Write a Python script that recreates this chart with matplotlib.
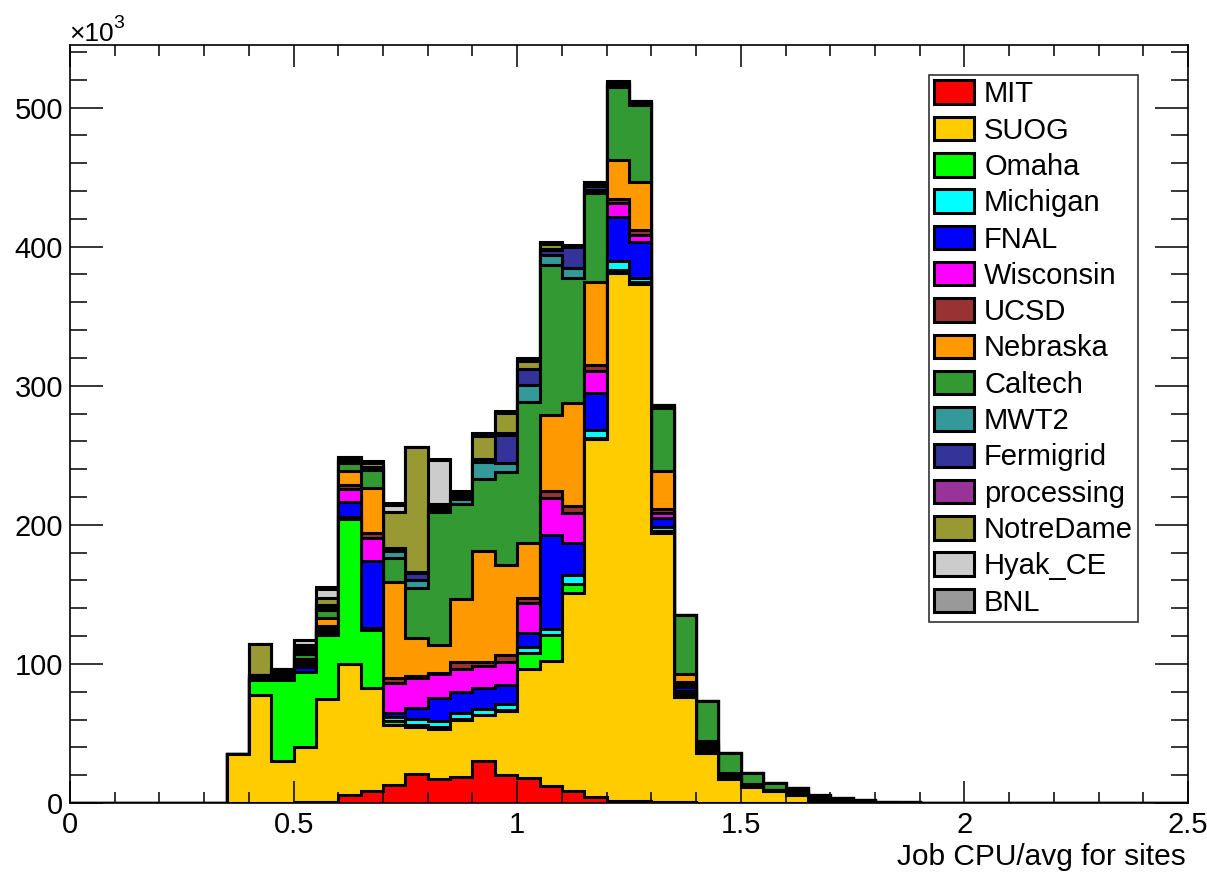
import numpy as np
import matplotlib
matplotlib.use('Agg')
import matplotlib.pyplot as plt
from matplotlib.patches import Patch
from matplotlib.ticker import MultipleLocator, FuncFormatter

plt.rcParams['font.family'] = ['Liberation Sans', 'DejaVu Sans']

# ---------------- data (values in units of 10^3) ----------------
n_bins = 50
x_min, x_max = 0.0, 2.5
first_bin = 7  # first filled bin starts at 0.35 (bins of 0.05)

sites = ["MIT", "SUOG", "Omaha", "Michigan", "FNAL", "Wisconsin", "UCSD",
         "Nebraska", "Caltech", "MWT2", "Fermigrid", "processing",
         "NotreDame", "Hyak_CE", "BNL"]
colors = ["#ff0000", "#ffcc00", "#00ff00", "#00ffff", "#0000ff", "#ff00ff",
          "#993333", "#ff9900", "#339933", "#339999", "#333399", "#993399",
          "#999933", "#cccccc", "#999999"]

# bins 0.35, 0.40, ..., 1.85
MIT = [0, 0, 0, 0.5, 1, 6, 8.8, 13, 20.5, 17.5, 19, 30, 20, 18, 12.5, 8.5,
       4, 1.5, 1.5, 1, 1, 0.3, 0.2, 0.2, 0.1, 0, 0, 0, 0, 0, 0]
SUOG = [35, 78, 30.4, 40, 74, 94, 74, 43, 34.5, 36, 41, 33, 46.5, 78.7, 89.5,
        142.2, 257.6, 379.3, 371.4, 192.8, 75.4, 36, 17.4, 11.4, 8.6, 5.5,
        1.5, 0.8, 0.5, 0.2, 0.1]
Omaha = [0, 10.4, 58, 54, 45.6, 104, 41.3, 3, 1.2, 0.8, 0.6, 0.2, 0.2, 10.8,
         18.7, 7.1, 0.7, 2.5, 1.5, 2, 2, 1.5, 0.8, 0.5, 0.2, 0.7, 0.5, 0.3,
         0.2, 0, 0]
Michigan = [0, 0, 0.5, 0, 1.5, 1.5, 1.5, 2.5, 4, 5, 4, 4.5, 4.5, 4.8, 4.5, 6,
            6.1, 6.1, 3, 3, 2, 1, 0.5, 0, 0, 0.3, 0, 0, 0, 0, 0]
FNAL = [0, 1, 1.5, 3.4, 2, 11, 48.2, 3, 8.2, 16.5, 15, 15.3, 14, 9.6, 67.4,
        22.8, 26.1, 31.6, 25.7, 6.3, 3, 2, 1, 0.8, 0.3, 1, 0.5, 0.3, 0.3,
        0.1, 0]
Wisconsin = [0, 0, 1, 1.8, 2, 9.5, 17, 21.5, 21.5, 17, 16.5, 15.3, 16.5, 21.6,
             26.9, 21.6, 16, 10.3, 5.2, 3.5, 1.5, 1, 0.5, 0.3, 0, 0.3, 0.3, 0,
             0, 0, 0]
UCSD = [0, 0, 0.5, 1.8, 1, 3, 3.6, 4, 1.5, 0.8, 5, 2.8, 4.5, 3.8, 4.5, 5, 4.6,
        2.7, 3.9, 3, 2, 0.5, 0, 0, 0, 0, 0, 0, 0, 0, 0]
Nebraska = [0, 1, 1.5, 1.9, 6, 10, 32.4, 69, 27.5, 20, 45.5, 80.2, 64.6, 39.3,
            54.9, 74.1, 59.7, 28.5, 34.5, 27, 6.2, 2, 1, 0.8, 0.3, 1, 0.5,
            0.4, 0.3, 0.2, 0]
Caltech = [0, 1.6, 1.5, 3.8, 6, 5.5, 12.4, 17, 36, 95.8, 68.5, 51.9, 67,
           101.9, 107.8, 90.4, 63.5, 52, 55.1, 45.1, 41.9, 29.1, 14.4, 7.4,
           4.7, 1.8, 1.8, 1.3, 0.9, 0.5, 0.3]
MWT2 = [0, 0, 0, 1.5, 1, 1, 1, 5.5, 5.3, 1.5, 3.8, 11.8, 6.9, 11.9, 7.2, 7.2,
        2.5, 1.5, 1, 1, 0.1, 0, 0, 0, 0, 0, 0.2, 0.2, 0, 0, 0]
Fermigrid = [0, 0, 0, 1.5, 1, 0.5, 1, 1, 5, 1.5, 1.2, 1.5, 20.1, 11.6, 3.5,
             15.1, 2.5, 1, 0.8, 0.7, 0, 0, 0, 0, 0, 0, 0.2, 0, 0, 0, 0]
processing = [0, 0, 0.5, 1.5, 1, 0.5, 0.5, 0.5, 1, 0.5, 0.5, 0.5, 1.5, 0.2, 1,
              0.3, 1, 0.5, 0.5, 0.5, 0, 0, 0, 0, 0, 0, 0, 0, 0, 0, 0]
NotreDame = [0, 22, 1.2, 1.7, 5.3, 1.5, 2.5, 26.5, 90, 2, 1.6, 17, 14.1, 5.5,
             3.5, 0.3, 1.5, 0.8, 0.5, 0.3, 0, 0, 0, 0, 0, 0, 0.3, 0.2, 0.3,
             0, 0]
Hyak_CE = [0, 0, 0, 3.6, 6.5, 0.5, 1, 4.8, 0, 31.6, 1.3, 1.5, 1, 1.5, 1, 0.2,
           0.5, 0.3, 0.2, 0.1, 0, 0, 0, 0, 0, 0, 0, 0, 0, 0, 0]
BNL = [0, 0, 0, 0.5, 1.3, 0.5, 0.5, 1.5, 0, 1, 0.5, 0.8, 0.5, 0.8, 0.7, 0.1,
       0.5, 0.2, 0.2, 0.1, 0, 0, 0, 0, 0, 0, 0, 0, 0, 0, 0]

values = [MIT, SUOG, Omaha, Michigan, FNAL, Wisconsin, UCSD, Nebraska,
          Caltech, MWT2, Fermigrid, processing, NotreDame, Hyak_CE, BNL]

# ---------------- build stack ----------------
edges = np.linspace(x_min, x_max, n_bins + 1)
data = np.zeros((len(sites), n_bins))
for i, v in enumerate(values):
    data[i, first_bin:first_bin + len(v)] = v
cum = np.cumsum(data, axis=0)

W, H = 1207, 872
fig = plt.figure(figsize=(W / 100, H / 100), dpi=100)
ax = fig.add_axes([70 / W, 1 - 803 / H, 1118 / W, 758 / H])

lw = 2.2
for i in range(len(sites) - 1, -1, -1):
    ax.stairs(cum[i], edges, baseline=0, fill=True, facecolor=colors[i],
              edgecolor='black', linewidth=lw, joinstyle='miter', zorder=1)

ax.set_xlim(x_min, x_max)
ax.set_ylim(0, 545)
ax.set_axisbelow(False)

ax.xaxis.set_major_locator(MultipleLocator(0.5))
ax.xaxis.set_minor_locator(MultipleLocator(0.1))
ax.yaxis.set_major_locator(MultipleLocator(100))
ax.yaxis.set_minor_locator(MultipleLocator(20))
ax.xaxis.set_major_formatter(FuncFormatter(lambda v, p: "%g" % v))
ax.yaxis.set_major_formatter(FuncFormatter(lambda v, p: "%g" % v))

ax.tick_params(axis='x', which='major', direction='in', length=16, width=1.1,
               top=True, labelsize=21, pad=6)
ax.tick_params(axis='x', which='minor', direction='in', length=8, width=1.1,
               top=True)
ax.tick_params(axis='y', which='major', direction='in', length=24, width=1.1,
               right=True, labelsize=21, pad=5)
ax.tick_params(axis='y', which='minor', direction='in', length=12, width=1.1,
               right=True)
for s in ax.spines.values():
    s.set_linewidth(1.2)
    s.set_zorder(3)

# axis label and exponent
fig.text(1186 / W, 1 - 865 / H, "Job CPU/avg for sites", ha='right',
         va='baseline', fontsize=21.5)
fig.text(69 / W, 1 - 41 / H, "\u00d710", ha='left', va='baseline', fontsize=19)
fig.text(113 / W, 1 - 28 / H, "3", ha='left', va='baseline', fontsize=14)

# legend
handles = [Patch(facecolor=c, edgecolor='black', linewidth=lw) for c in colors]
leg = ax.legend(handles, sites, loc='upper left',
                bbox_to_anchor=((929 - 70) / 1118, (803 - 75) / 758),
                borderaxespad=0, fontsize=21, frameon=True, fancybox=False,
                handlelength=1.37, handleheight=0.86, handletextpad=0.34,
                labelspacing=0.285, borderpad=0.18)
leg.get_frame().set_edgecolor('black')
leg.get_frame().set_linewidth(1.2)
leg.set_zorder(5)

fig.savefig("out.png", dpi=100)
